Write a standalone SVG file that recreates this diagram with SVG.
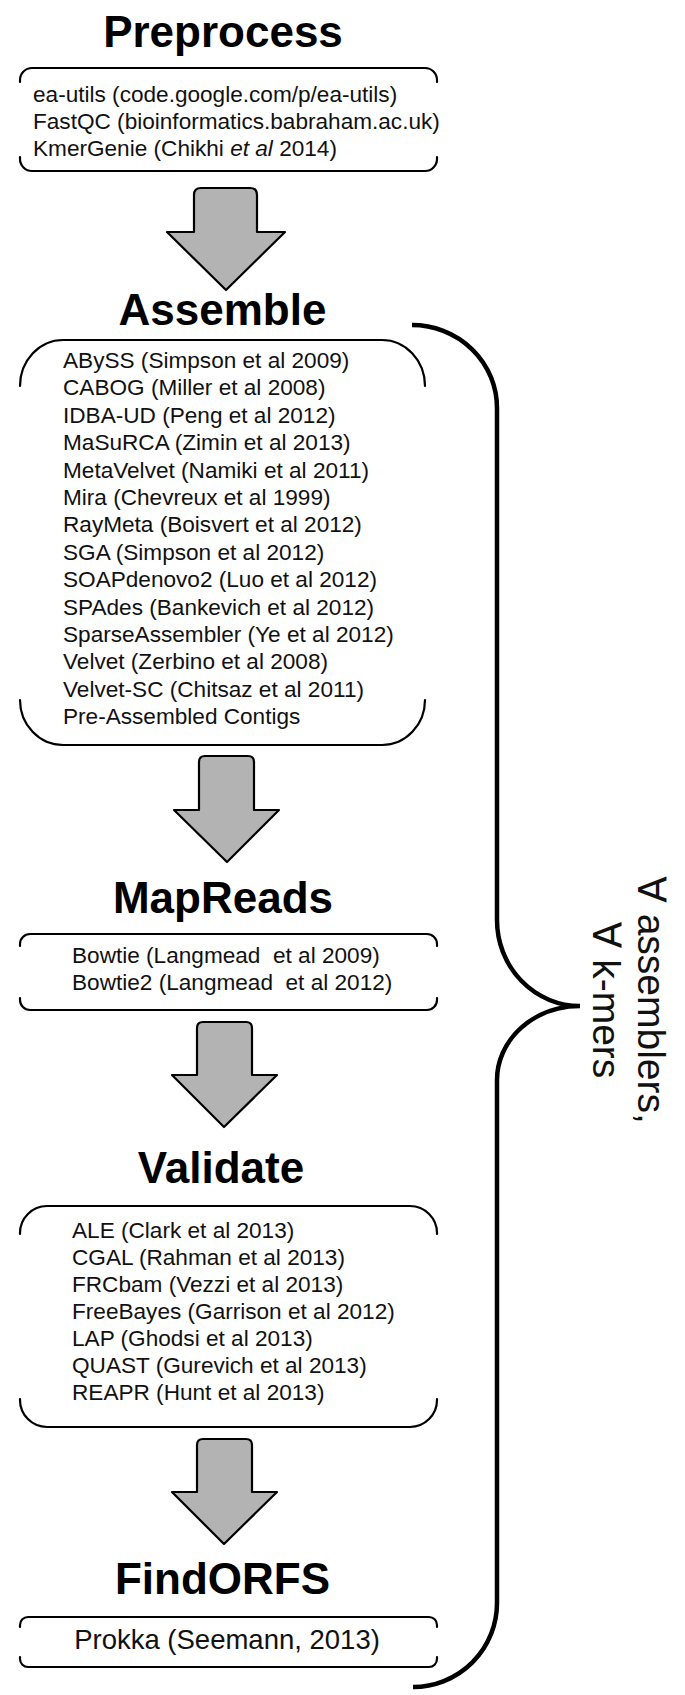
<svg xmlns="http://www.w3.org/2000/svg" width="685" height="1695" viewBox="0 0 685 1695">
<style>
.title{font-family:"Liberation Sans",Arial,sans-serif;font-weight:bold;font-size:44px;fill:#000;text-anchor:middle}
.item{font-family:"Liberation Sans",Arial,sans-serif;font-size:22.6px;fill:#111}
.big{font-size:27.5px;text-anchor:middle}
.box{fill:none;stroke:#000;stroke-width:2.2;stroke-linecap:round}
.arrow{fill:#b3b3b3;stroke:#000;stroke-width:2.2;stroke-linejoin:round}
.brace{fill:none;stroke:#000;stroke-width:4.5}
.side{font-family:"Liberation Sans","DejaVu Sans",Arial,sans-serif;font-size:39px;fill:#111;text-anchor:middle}
</style>
<rect width="685" height="1695" fill="#fff"/>

<g id="preprocess">
<text class="title" x="223" y="47">Preprocess</text>
<path class="box" d="M20,82 V80 A12 12 0 0 1 32 68 H425 A12 12 0 0 1 437 80 V82"/>
<path class="box" d="M20,157 V159 A12 12 0 0 0 32 171 H425 A12 12 0 0 0 437 159 V157"/>
<text class="item" x="33" y="102">ea-utils (code.google.com/p/ea-utils)</text>
<text class="item" x="33" y="129">FastQC (bioinformatics.babraham.ac.uk)</text>
<text class="item" x="33" y="156">KmerGenie (Chikhi <tspan font-style="italic">et al</tspan> 2014)</text>
</g>

<g id="assemble">
<text class="title" x="222.5" y="325">Assemble</text>
<path class="box" d="M20,386 A43 46 0 0 1 63 340 H382 A43 46 0 0 1 425 386"/>
<path class="box" d="M20,700 A43 45 0 0 0 63 745 H382 A43 45 0 0 0 425 700"/>
<text class="item" x="63" y="368">ABySS (Simpson et al 2009)</text>
<text class="item" x="63" y="395.4">CABOG (Miller et al 2008)</text>
<text class="item" x="63" y="422.8">IDBA-UD (Peng et al 2012)</text>
<text class="item" x="63" y="450.2">MaSuRCA (Zimin et al 2013)</text>
<text class="item" x="63" y="477.6">MetaVelvet (Namiki et al 2011)</text>
<text class="item" x="63" y="505">Mira (Chevreux et al 1999)</text>
<text class="item" x="63" y="532.4">RayMeta (Boisvert et al 2012)</text>
<text class="item" x="63" y="559.8">SGA (Simpson et al 2012)</text>
<text class="item" x="63" y="587.2">SOAPdenovo2 (Luo et al 2012)</text>
<text class="item" x="63" y="614.6">SPAdes (Bankevich et al 2012)</text>
<text class="item" x="63" y="642">SparseAssembler (Ye et al 2012)</text>
<text class="item" x="63" y="669.4">Velvet (Zerbino et al 2008)</text>
<text class="item" x="63" y="696.8">Velvet-SC (Chitsaz et al 2011)</text>
<text class="item" x="63" y="724.2">Pre-Assembled Contigs</text>
</g>

<g id="mapreads">
<text class="title" x="223" y="913">MapReads</text>
<path class="box" d="M20,946 V944 A10 10 0 0 1 30 934 H427 A10 10 0 0 1 437 944 V946"/>
<path class="box" d="M20,998 V1000 A10 10 0 0 0 30 1010 H427 A10 10 0 0 0 437 1000 V998"/>
<text class="item" x="72" y="963" xml:space="preserve">Bowtie (Langmead  et al 2009)</text>
<text class="item" x="72" y="990" xml:space="preserve">Bowtie2 (Langmead  et al 2012)</text>
</g>

<g id="validate">
<text class="title" x="221" y="1183">Validate</text>
<path class="box" d="M20,1234 V1233 A27 27 0 0 1 47 1206 H410 A27 27 0 0 1 437 1233 V1234"/>
<path class="box" d="M20,1399 V1400 A27 27 0 0 0 47 1427 H410 A27 27 0 0 0 437 1400 V1399"/>
<text class="item" x="72" y="1238">ALE (Clark et al 2013)</text>
<text class="item" x="72" y="1265">CGAL (Rahman et al 2013)</text>
<text class="item" x="72" y="1292">FRCbam (Vezzi et al 2013)</text>
<text class="item" x="72" y="1319">FreeBayes (Garrison et al 2012)</text>
<text class="item" x="72" y="1346">LAP (Ghodsi et al 2013)</text>
<text class="item" x="72" y="1373">QUAST (Gurevich et al 2013)</text>
<text class="item" x="72" y="1400">REAPR (Hunt et al 2013)</text>
</g>

<g id="findorfs">
<text class="title" x="222.5" y="1594">FindORFS</text>
<path class="box" d="M20,1627 V1625 A8 8 0 0 1 28 1617 H429 A8 8 0 0 1 437 1625 V1627"/>
<path class="box" d="M20,1657 V1659 A8 8 0 0 0 28 1667 H429 A8 8 0 0 0 437 1659 V1657"/>
<text class="item big" x="227" y="1649">Prokka (Seemann, 2013)</text>
</g>

<g id="connectors">
<path class="arrow" d="M194,195 Q194,188 201,188 H250 Q257,188 257,195 V232 H285 L226,290 L167,232 H194 Z"/>
<path class="arrow" d="M199,762 Q199,756 205,756 H248 Q254,756 254,762 V810 H279 L227,862 L174,810 H199 Z"/>
<path class="arrow" d="M197,1028 Q197,1022 203,1022 H246 Q252,1022 252,1028 V1075 H277 L224,1127 L172,1075 H197 Z"/>
<path class="arrow" d="M197,1445 Q197,1439 203,1439 H246 Q252,1439 252,1445 V1492 H277 L224,1544 L172,1492 H197 Z"/>
</g>

<g id="brace">
<path class="brace" d="M412,325 A85 83 0 0 1 497 408 V920 A83 86 0 0 0 580 1006 A83 74 0 0 0 497 1080 V1603 A84 84 0 0 1 413 1687"/>
<g transform="translate(638,1000) rotate(90)">
<text class="side" x="0" y="0">∀ assemblers,</text>
<text class="side" x="0" y="45">∀ k-mers</text>
</g>
</g>
</svg>
